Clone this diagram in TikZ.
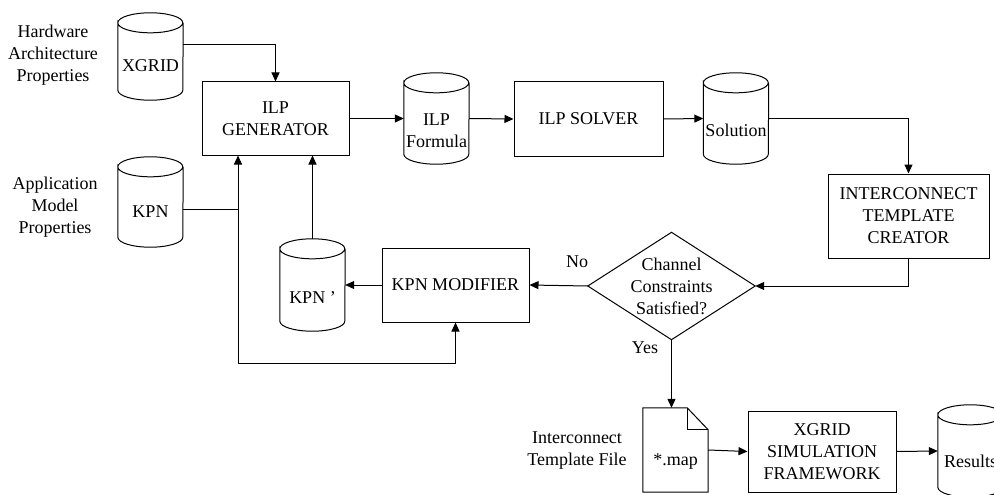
\documentclass[tikz,border=0pt]{standalone}
\usepackage{fontspec}
\setmainfont{Liberation Serif}
\usetikzlibrary{arrows.meta,calc}

% drum (database) outline drawn around an invisible rectangular node
\newcommand\drawdrum[1]{%
  \draw[edge] ([yshift=-10pt]#1.north west)
    arc[start angle=180,end angle=0,x radius=32.5pt,y radius=10pt]
    arc[start angle=0,end angle=-180,x radius=32.5pt,y radius=10pt]
    -- ([yshift=10pt]#1.south west)
    arc[start angle=180,end angle=360,x radius=32.5pt,y radius=10pt]
    -- ([yshift=-10pt]#1.north east);}

\begin{document}
\begin{tikzpicture}[x=1pt,y=1pt,
  every node/.style={font=\rmfamily\fontsize{18}{22}\selectfont, align=center, inner sep=0pt},
  edge/.style={line width=1pt},
  box/.style={draw, line width=1pt},
  drum/.style={minimum width=65pt},
  flow/.style={line width=1pt, -{Triangle[length=9pt,width=8pt]}},
  plain/.style={line width=1pt}
]
\useasboundingbox (0,0) rectangle (994,-495);

% process boxes
\node[box, minimum width=147pt, minimum height=73pt] (ilpgen) at (275.5,-118.5) {ILP\\GENERATOR};
\node[box, minimum width=149pt, minimum height=74pt] (solver) at (588.5,-119) {ILP SOLVER};
\node[box, minimum width=161pt, minimum height=84pt] (ictc) at (908.5,-216) {INTERCONNECT\\TEMPLATE\\CREATOR};
\node[box, minimum width=147pt, minimum height=74pt] (kpnmod) at (455.5,-285) {KPN MODIFIER};
\node[box, minimum width=148pt, minimum height=81pt] (xsim) at (822,-451.5) {XGRID\\SIMULATION\\FRAMEWORK};

% data stores
\node[drum, minimum height=87pt] (xgrid) at (150.5,-56.5) {};
\node[drum, minimum height=90pt] (kpn) at (150.5,-202) {};
\node[drum, minimum height=92pt] (kpnp) at (312.5,-285) {};
\node[drum, minimum height=91pt] (ilpf) at (436.5,-118.5) {};
\node[drum, minimum height=91pt] (sol) at (736,-118.5) {};
\node[drum, minimum height=92pt] (res) at (970.5,-451) {};
\foreach \n in {xgrid,kpn,kpnp,ilpf,sol,res} {\drawdrum{\n}}

\node (xgridtxt) at (150.5,-66) {XGRID};
\node (kpntxt) at (150.5,-212) {KPN};
\node (kpnptxt) at (312.5,-298) {KPN '};
\node (ilpftxt) at (436.5,-131) {ILP\\Formula};
\node (soltxt) at (736,-130) {Solution};
\node (restxt) at (970.5,-461) {Results};

% decision
\node[minimum width=167pt, minimum height=107pt] (dia) at (671.5,-286) {Channel\\Constraints\\Satisfied?};
\draw[edge] (dia.west) -- (dia.north) -- (dia.east) -- (dia.south) -- cycle;

% document
\node[minimum width=65pt, minimum height=84pt] (map) at (675.5,-450) {};
\node (maptxt) at (675.5,-462) {*.map};
\draw[edge, line join=miter] (map.north west) -- ([xshift=-21pt]map.north east)
  -- ([yshift=-22pt]map.north east) -- (map.south east) -- (map.south west) -- cycle;
\draw[edge] ([xshift=-21pt]map.north east) -- ([xshift=-21pt,yshift=-22pt]map.north east)
  -- ([yshift=-22pt]map.north east);

% side labels
\node (hw) at (53,-55) {Hardware\\Architecture\\Properties};
\node (app) at (55,-207) {Application\\Model\\Properties};
\node (itf) at (577,-451) {Interconnect\\Template File};
\node (no) at (577,-262) {No};
\node (yes) at (645,-348) {Yes};

% connectors
\draw[flow] ([yshift=11.5pt]xgrid.east) -| (ilpgen.north);
\draw[flow] (ilpgen.east) -- (ilpf.west);
\draw[flow] (ilpf.east) -- (solver.west);
\draw[flow] (solver.east) -- (sol.west);
\draw[flow] (sol.east) -| (ictc.north);
\draw[flow] (ictc.south) |- (dia.east);
\draw[flow] (dia.west) -- (kpnmod.east);
\draw[flow] (kpnmod.west) -- (kpnp.east);
\draw[flow] (kpnp.north) -- (kpnp.north |- ilpgen.south);
\coordinate (jb) at (238,-363);
\draw[plain] ([yshift=-7pt]kpn.east) -- ([yshift=-7pt]kpn.east -| jb);
\draw[flow] (jb) -- (jb |- ilpgen.south);
\draw[flow] (jb) -| (kpnmod.south);
\draw[flow] (dia.south) -- (dia.south |- map.north);
\draw[flow] (map.east) -- (xsim.west);
\draw[flow] (xsim.east) -- (res.west);
\end{tikzpicture}
\end{document}
